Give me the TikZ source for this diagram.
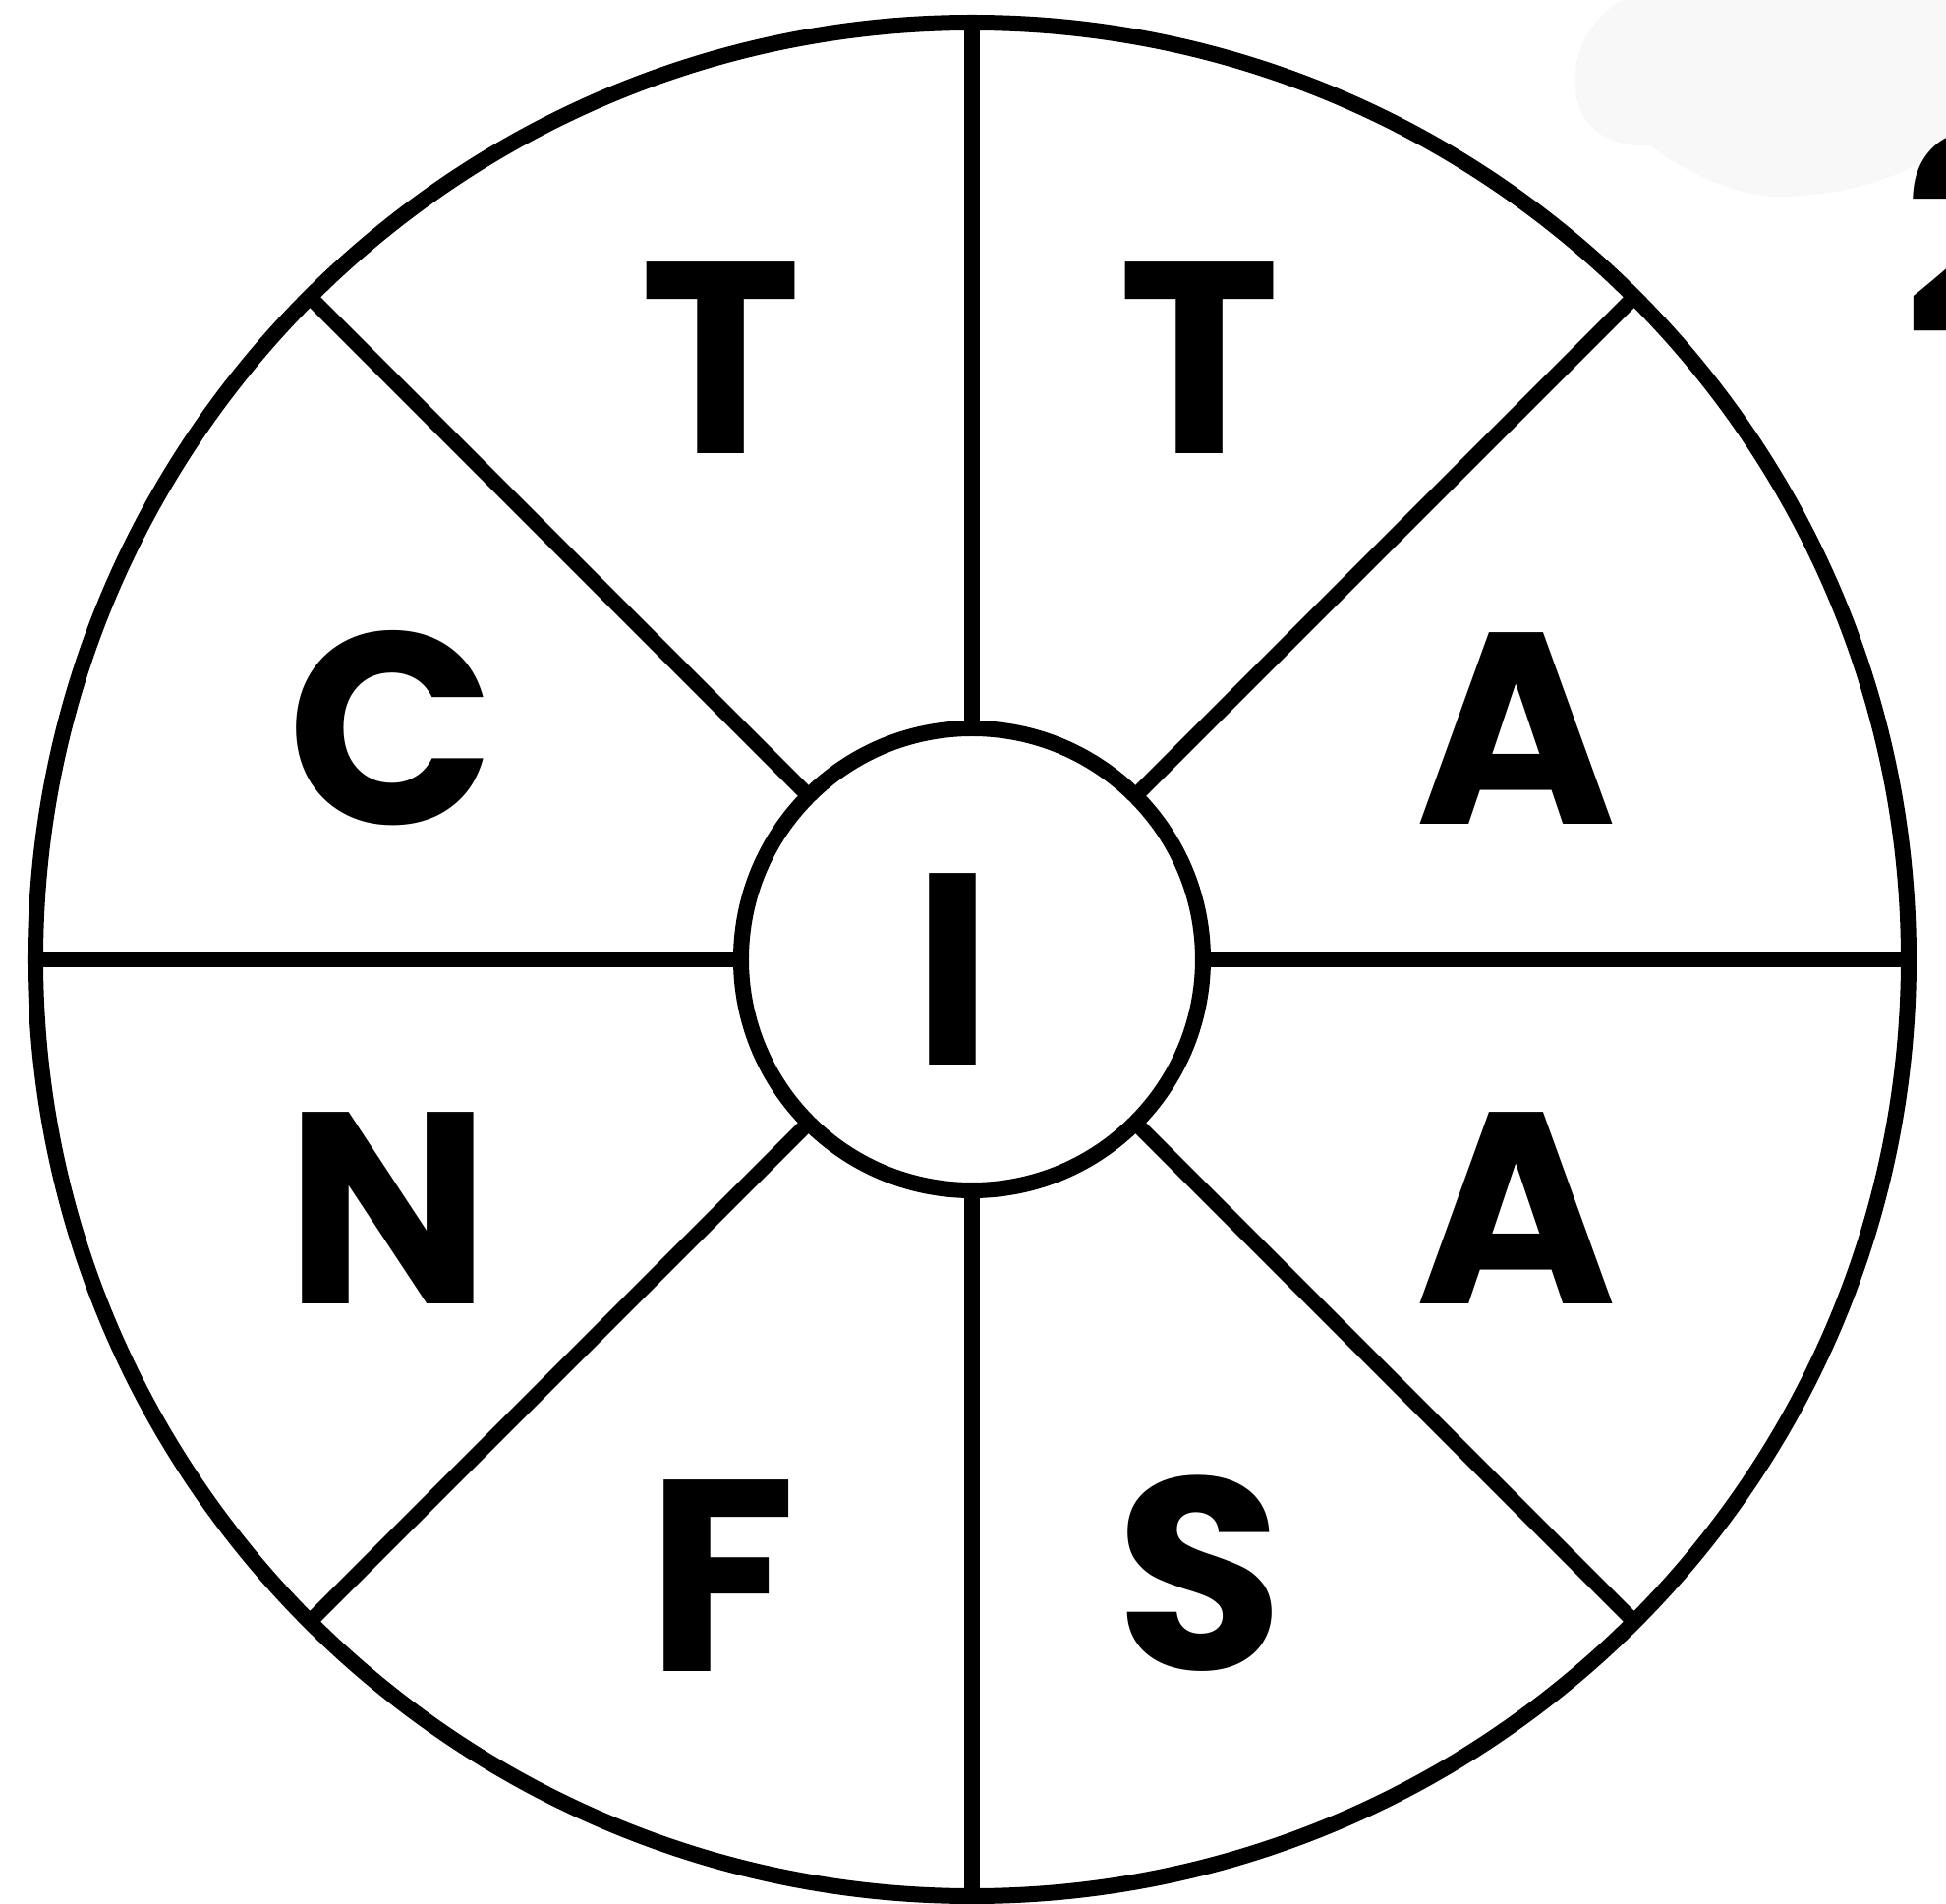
\documentclass[tikz,border=0pt]{standalone}
\usepackage{fontspec}
\setmainfont{Poppins}
\usetikzlibrary{positioning}

\definecolor{blobgray}{HTML}{F8F8F8}
\tikzset{
  wheel/.style={draw,line width=0.16cm,circle,inner sep=0pt,outer sep=0pt},
  spoke/.style={line width=0.155cm},
  letter/.style={font=\fontsize{79}{80}\selectfont\bfseries,inner sep=0pt}
}

\begin{document}
\begin{tikzpicture}
    % Frame of the picture
    \useasboundingbox (-9.89,-9.61) rectangle (9.91,9.76);

    % Faint smudge and cut-off number at top right
    \fill[blobgray] (6.61,9.76) .. controls (6.35,9.6) and (6.1,9.3) .. (6.14,8.86)
        .. controls (6.17,8.45) and (6.5,8.25) .. (6.9,8.28)
        .. controls (7.4,7.9) and (8.0,7.7) .. (8.41,7.77)
        .. controls (9.0,7.8) and (9.6,8.0) .. (9.91,8.3) -- (9.91,9.76) -- cycle;
    \node[letter,anchor=base west] (num) at (9.47,6.36) {2};

    % Wheel
    \node[wheel,minimum size=19.06cm] (rim) at (0,0) {};
    \node[wheel,minimum size=4.70cm] (hub) at (0,0) {};
    \foreach \a in {0,45,...,315}
        \draw[spoke] (hub.\a) -- (rim.\a);

    % Letters
    \node[letter] (hubI) at (-0.20,-0.10) {I};
    \node[letter] (topL) at (-2.55,6.12) {T};
    \node[letter] (topR) at (2.32,6.12) {T};
    \node[letter] (upL) at (-5.91,2.35) {C};
    \node[letter] (upR) at (5.54,2.35) {A};
    \node[letter] (lowL) at (-5.94,-2.53) {N};
    \node[letter] (lowR) at (5.54,-2.53) {A};
    \node[letter] (botL) at (-2.55,-6.27) {F};
    \node[letter] (botR) at (2.32,-6.25) {S};
\end{tikzpicture}
\end{document}
